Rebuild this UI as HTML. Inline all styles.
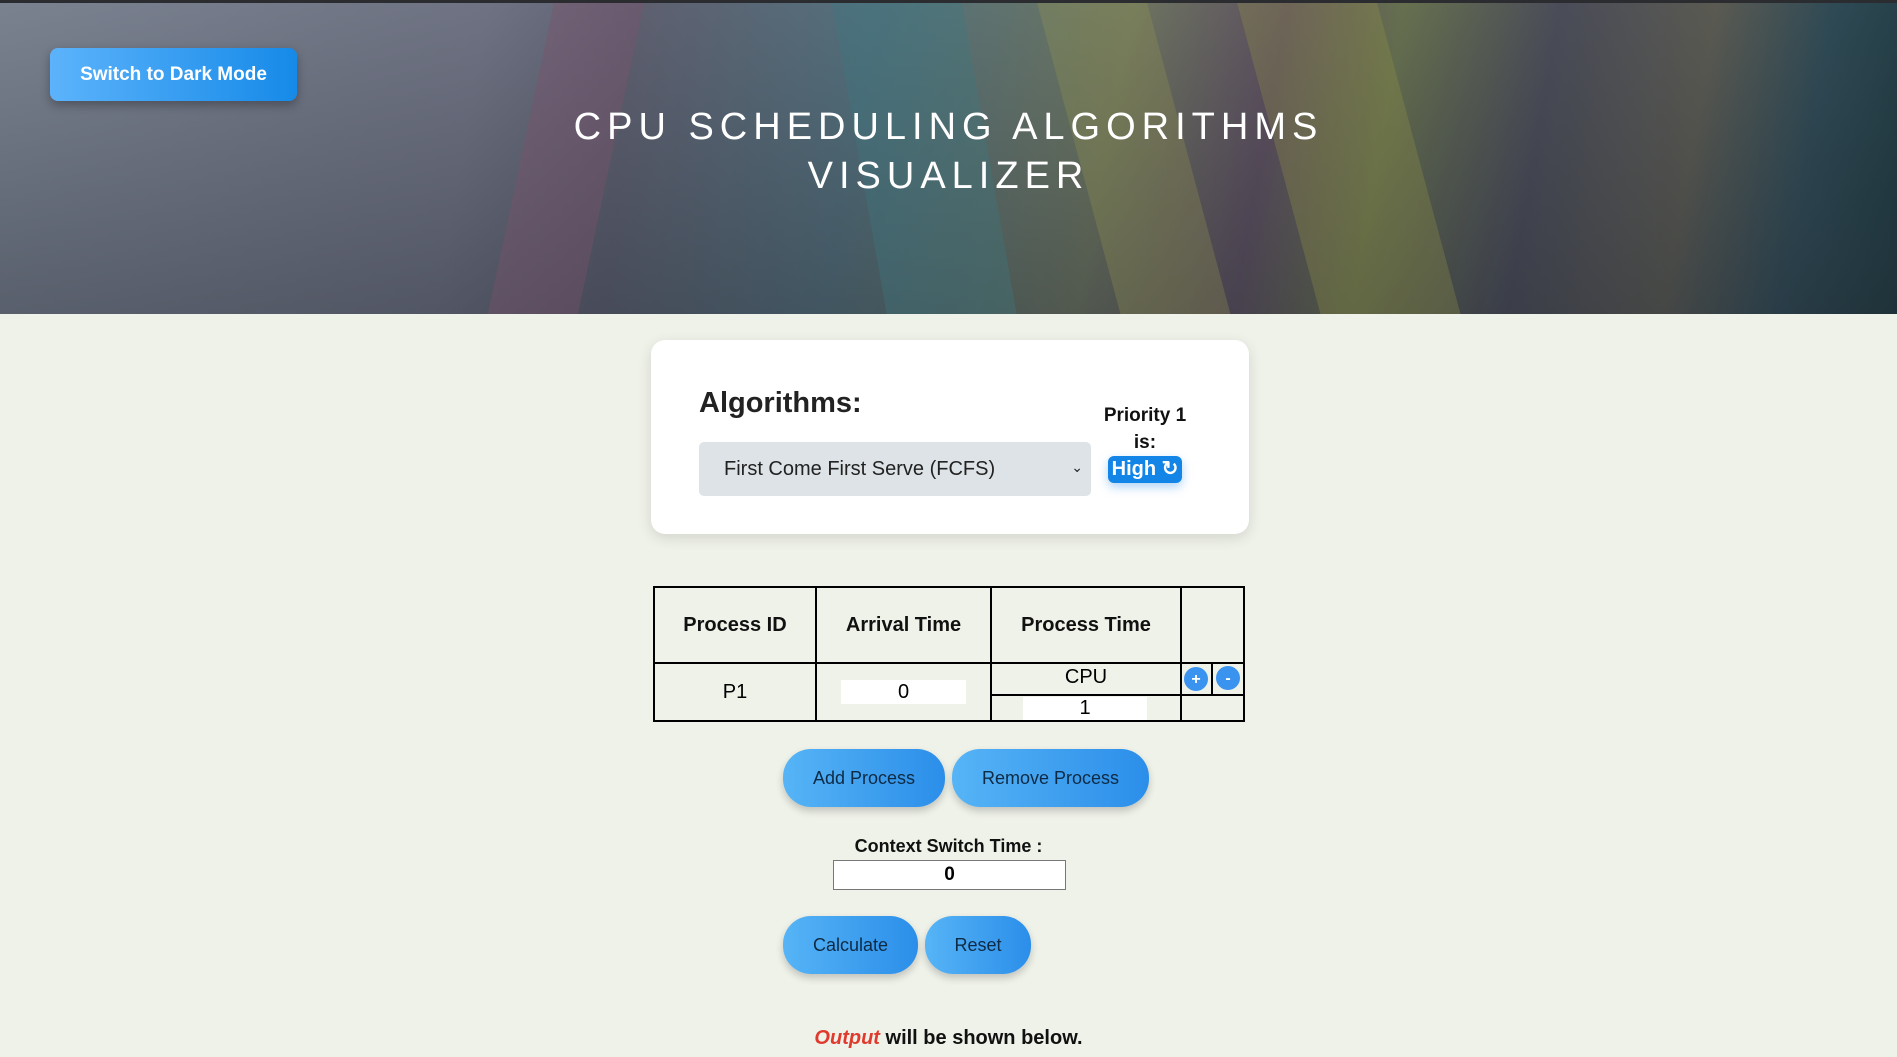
<!DOCTYPE html>
<html><head><style>
body{margin:0;width:1897px;height:1057px;overflow:hidden;background:#eff2e9;font-family:"Liberation Sans",sans-serif;position:relative}
.hdr{position:absolute;left:0;top:0;width:1897px;height:314px;border-top:3px solid #2a2c30;box-sizing:border-box;overflow:hidden;
background:linear-gradient(180deg,rgba(120,128,140,.0),rgba(30,35,45,.35)),linear-gradient(100deg,#7a8290 0%,#6e7282 25%,#5e6070 33%,#53707c 45%,#6d7560 58%,#5d5060 66%,#66704f 72%,#4a4c58 80%,#5a5a52 88%,#2f4a55 94%,#1f3a40 100%)}
.btn{position:absolute;border-radius:28px;background:linear-gradient(90deg,#56b4f6,#2b8ee9);color:#0e2a44;font-size:18px;text-align:center;box-shadow:0 4px 8px rgba(0,0,0,.2)}
.abs{position:absolute}
.v{position:absolute;width:2px;background:#000}
.h{position:absolute;height:2px;background:#000}
.th{position:absolute;top:587px;height:76px;line-height:76px;text-align:center;font-weight:bold;font-size:20px;color:#111}
</style></head><body>
<div class="hdr">
<div class="abs" style="left:520px;top:-10px;width:90px;height:340px;background:rgba(130,80,110,.35);transform:skewX(-12deg)"></div>
<div class="abs" style="left:860px;top:-10px;width:130px;height:340px;background:rgba(60,120,130,.35);transform:skewX(10deg)"></div>
<div class="abs" style="left:1080px;top:-10px;width:110px;height:340px;background:rgba(150,150,80,.3);transform:skewX(15deg)"></div>
<div class="abs" style="left:1280px;top:-10px;width:140px;height:340px;background:rgba(150,150,70,.3);transform:skewX(15deg)"></div>
<div class="abs" style="left:50px;top:45px;width:247px;height:53px;border-radius:8px;background:linear-gradient(90deg,#5cb3fb,#168ae8);color:#fff;font-weight:bold;font-size:19px;line-height:53px;text-align:center;box-shadow:0 4px 10px rgba(0,0,0,.3)">Switch to Dark Mode</div>
<div class="abs" style="left:0;width:1897px;top:100px;text-align:center;color:#fff;font-size:38px;letter-spacing:6px;line-height:49px">CPU SCHEDULING ALGORITHMS<br>VISUALIZER</div>
</div>
<div class="abs" style="left:651px;top:340px;width:598px;height:194px;background:#fff;border-radius:14px;box-shadow:0 4px 14px rgba(0,0,0,.12)"></div>
<div class="abs" style="left:699px;top:387px;font-size:29px;font-weight:bold;color:#222">Algorithms:</div>
<div class="abs" style="left:699px;top:442px;width:392px;height:54px;background:#dde3e6;border-radius:5px;font-size:20px;line-height:54px;color:#222"><span style="margin-left:25px">First Come First Serve (FCFS)</span><span style="position:absolute;right:8px;font-size:14px;top:-2px">&#8964;</span></div>
<div class="abs" style="left:1095px;top:402px;width:100px;text-align:center;font-size:19px;font-weight:bold;line-height:27px;color:#111">Priority 1<br>is:</div>
<div class="abs" style="left:1108px;top:456px;width:74px;height:27px;background:#1385e6;border-radius:6px;color:#fff;font-weight:bold;font-size:20px;line-height:27px;text-align:center;box-shadow:0 4px 10px rgba(30,130,230,.35)">High &#8635;</div>
<!-- table -->
<div class="h" style="left:653px;top:586px;width:592px"></div>
<div class="h" style="left:653px;top:662px;width:592px"></div>
<div class="h" style="left:991px;top:694px;width:254px"></div>
<div class="h" style="left:653px;top:720px;width:592px"></div>
<div class="v" style="left:653px;top:586px;height:136px"></div>
<div class="v" style="left:815px;top:586px;height:136px"></div>
<div class="v" style="left:990px;top:586px;height:136px"></div>
<div class="v" style="left:1180px;top:586px;height:136px"></div>
<div class="v" style="left:1243px;top:586px;height:136px"></div>
<div class="v" style="left:1211px;top:662px;height:33px"></div>
<div class="th" style="left:654px;width:162px">Process ID</div>
<div class="th" style="left:816px;width:175px">Arrival Time</div>
<div class="th" style="left:991px;width:190px">Process Time</div>
<div class="abs" style="left:654px;top:681px;width:162px;text-align:center;font-size:20px">P1</div>
<div class="abs" style="left:841px;top:680px;width:125px;height:24px;background:#fff;text-align:center;font-size:20px;line-height:24px">0</div>
<div class="abs" style="left:991px;top:666px;width:190px;text-align:center;font-size:20px">CPU</div>
<div class="abs" style="left:1023px;top:697px;width:124px;height:23px;background:#fff;text-align:center;font-size:20px;line-height:23px">1</div>
<div class="abs" style="left:1184px;top:667px;width:24px;height:24px;border-radius:50%;background:#3a93ee;color:#fff;text-align:center;font-weight:bold;line-height:26px">+</div>
<div class="abs" style="left:1216px;top:666px;width:24px;height:24px;border-radius:50%;background:#3a93ee;color:#fff;text-align:center;font-weight:bold;line-height:26px">-</div>
<div class="btn" style="left:783px;top:749px;width:162px;height:58px;line-height:58px">Add Process</div>
<div class="btn" style="left:952px;top:749px;width:197px;height:58px;line-height:58px">Remove Process</div>
<div class="abs" style="left:0;width:1897px;top:836px;text-align:center;font-weight:bold;font-size:18px;color:#111">Context Switch Time :</div>
<div class="abs" style="left:833px;top:860px;width:231px;height:28px;border:1px solid #777;background:#fff;text-align:center;font-weight:bold;font-size:19px;line-height:28px">0</div>
<div class="btn" style="left:783px;top:916px;width:135px;height:58px;line-height:58px">Calculate</div>
<div class="btn" style="left:925px;top:916px;width:106px;height:58px;line-height:58px">Reset</div>
<div class="abs" style="left:0;width:1897px;top:1027px;text-align:center;font-weight:bold;font-size:20px;color:#111"><i style="color:#e03a2e">Output</i> will be shown below.</div>
</body></html>
